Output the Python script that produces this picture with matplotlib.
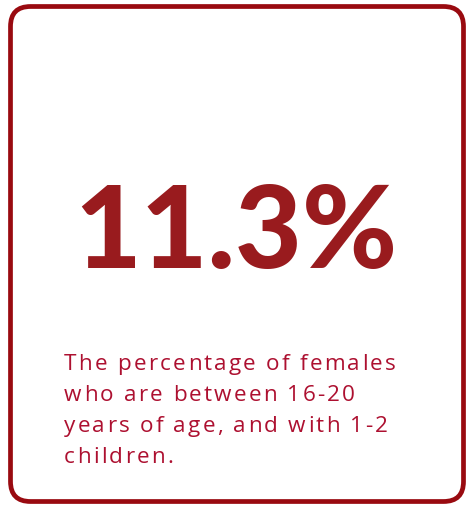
import matplotlib
matplotlib.use("Agg")
import matplotlib.pyplot as plt
from matplotlib.patches import FancyBboxPatch
from matplotlib import font_manager
from matplotlib.ft2font import FT2Font

W, H = 473, 508

value_text = "11.3%"
desc_lines = [
    "The percentage of females",
    "who are between 16-20",
    "years of age, and with 1-2",
    "children.",
]

border_color = "#990a10"
value_color = "#991b1e"
desc_color = "#ad1030"

fig = plt.figure(figsize=(W / 100, H / 100), dpi=100)
ax = fig.add_axes([0, 0, 1, 1])
ax.set_xlim(0, W)
ax.set_ylim(H, 0)
ax.axis("off")

# rounded card border
card = FancyBboxPatch((10.5, 6.5), 453, 495,
                      boxstyle="round,pad=0,rounding_size=20",
                      fc="white", ec=border_color, lw=3.4)
ax.add_patch(card)

# big number
ax.text(235.5, 268, value_text, fontsize=83, family="Lato", weight="black",
        color=value_color, ha="center", va="baseline")

# description with letter spacing, char by char
desc_size = 16.2
fp = font_manager.FontProperties(family="Open Sans", size=desc_size)
font = FT2Font(font_manager.findfont(fp))
font.set_size(desc_size, 100)


def advances(s):
    return [font.load_char(ord(c)).linearHoriAdvance / 65536 for c in s]


first = advances(desc_lines[0])
track = (330 - sum(first[:-1]) - 9) / (len(desc_lines[0]) - 1)

x0, y0, lead = 64, 370, 31
for i, line in enumerate(desc_lines):
    x = x0
    for c, adv in zip(line, advances(line)):
        if c != " ":
            ax.text(x, y0 + i * lead, c, fontproperties=fp, color=desc_color,
                    ha="left", va="baseline")
        x += adv + track

fig.savefig("out.png", dpi=100)
